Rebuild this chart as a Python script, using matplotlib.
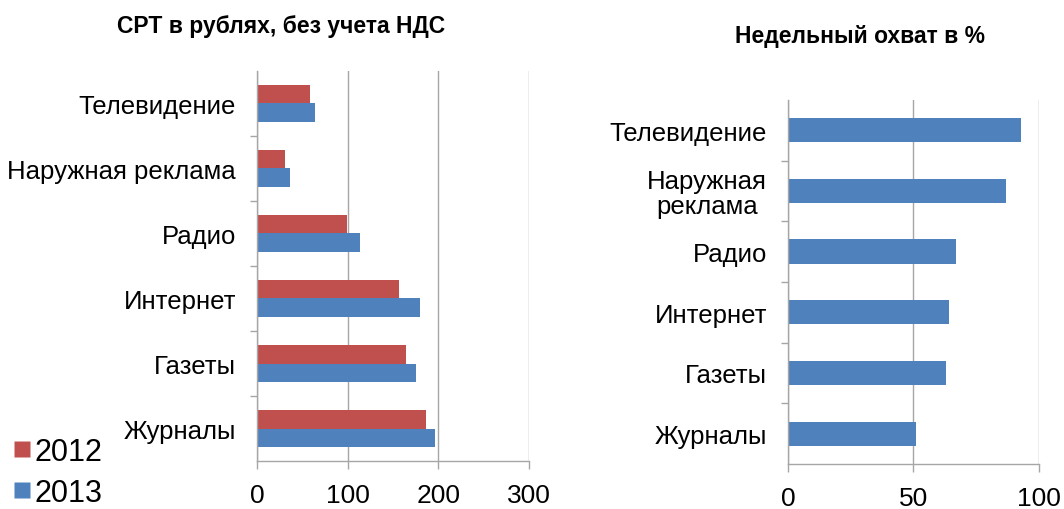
import matplotlib.pyplot as plt
import numpy as np
from matplotlib.lines import Line2D

plt.rcParams['font.family'] = ['Liberation Sans', 'DejaVu Sans']

# Media categories, top to bottom
CATEGORIES = ['Телевидение', 'Наружная реклама', 'Радио', 'Интернет', 'Газеты', 'Журналы']
CATEGORIES_WRAPPED = ['Телевидение', 'Наружная\nреклама', 'Радио', 'Интернет', 'Газеты', 'Журналы']

# CPT in roubles, excluding VAT
CPT_2012 = [58, 31, 99, 157, 165, 186]
CPT_2013 = [64, 36, 114, 180, 175, 196]

# Weekly reach, %
WEEKLY_REACH = [93, 87, 67, 64, 63, 51]

LEFT_TICKS = [0, 100, 200, 300]
RIGHT_TICKS = [0, 50, 100]

RED = '#C0504D'
BLUE = '#4F81BD'
GRID = '#A6A6A6'


def style_axis(ax, n):
    ax.set_ylim(0, n)
    ax.set_yticks(np.arange(n) + 0.5)
    ax.set_yticks(np.arange(1, n), minor=True)
    ax.tick_params(axis='y', which='major', length=0, labelsize=18.5, pad=15)
    ax.tick_params(axis='y', which='minor', length=5, color=GRID, width=1)
    ax.tick_params(axis='x', which='major', length=6, color=GRID, width=1, labelsize=19, pad=10)
    ax.xaxis.grid(True, color=GRID, linewidth=1)
    ax.set_axisbelow(True)
    for side in ['top', 'right']:
        ax.spines[side].set_visible(False)
    for side in ['left', 'bottom']:
        ax.spines[side].set_color(GRID)
        ax.spines[side].set_linewidth(1)


fig = plt.figure(figsize=(10.64, 5.10), dpi=100)

n = len(CATEGORIES)
pos = n - 1 - np.arange(n) + 0.5

# Left: CPT by year
ax1 = fig.add_axes([0.2415, 0.094, 0.2555, 0.765])
h = 0.285
ax1.barh(pos + h / 2, CPT_2012, height=h, color=RED, label='2012')
ax1.barh(pos - h / 2, CPT_2013, height=h, color=BLUE, label='2013')
ax1.set_xlim(0, 300)
ax1.set_xticks(LEFT_TICKS)
style_axis(ax1, n)
ax1.set_yticklabels(CATEGORIES[::-1])

fig.text(0.264, 0.949, 'СРТ в рублях, без учета НДС', ha='center', va='center',
         fontsize=16.5, fontweight='bold')

# Right: weekly reach
ax2 = fig.add_axes([0.7406, 0.0882, 0.2359, 0.714])
ax2.barh(pos, WEEKLY_REACH, height=0.4, color=BLUE)
ax2.set_xlim(0, 100)
ax2.set_xticks(RIGHT_TICKS)
style_axis(ax2, n)
ax2.set_yticklabels(CATEGORIES_WRAPPED[::-1], multialignment='center', linespacing=1.05)

fig.text(0.808, 0.929, 'Недельный охват в %', ha='center', va='center',
         fontsize=16.5, fontweight='bold')

# Legend in the lower-left corner
handles = [Line2D([], [], marker='s', color='none', markerfacecolor=RED, markeredgecolor='none', markersize=11),
           Line2D([], [], marker='s', color='none', markerfacecolor=BLUE, markeredgecolor='none', markersize=11)]
fig.legend(handles, ['2012', '2013'], loc='center left', bbox_to_anchor=(0.013, 0.072),
           frameon=False, fontsize=22, handlelength=0.55, handletextpad=0.12,
           labelspacing=0.36, borderaxespad=0.0, borderpad=0.0)

fig.savefig('out.png', dpi=100)
